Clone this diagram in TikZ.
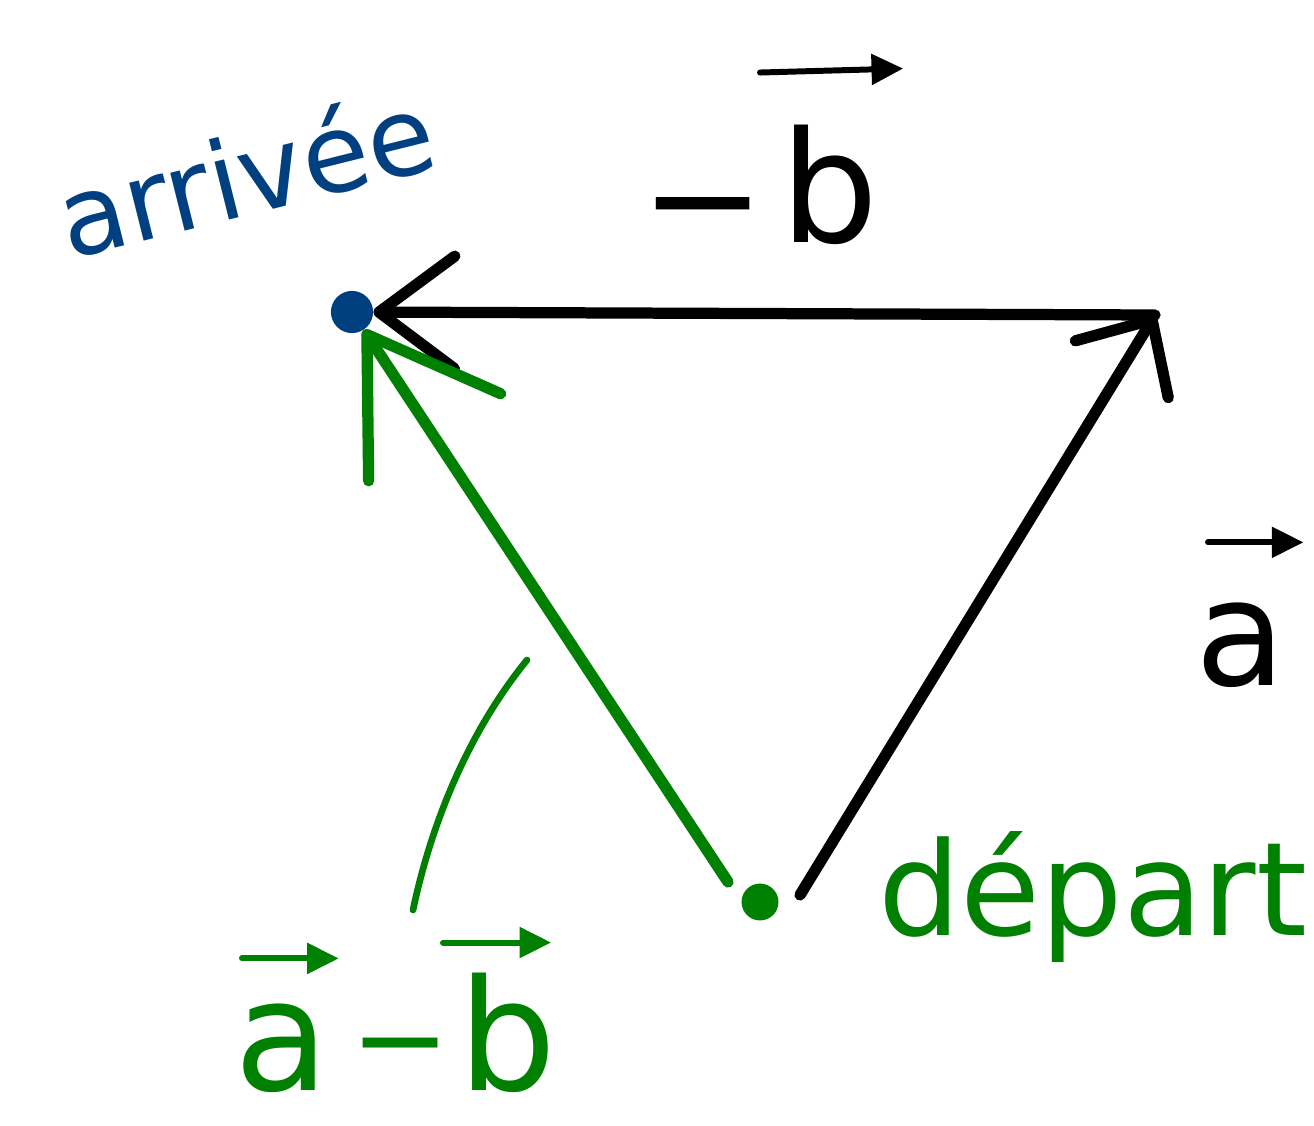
\documentclass[tikz,border=0pt]{standalone}
\usepackage{fontspec}
\setmainfont{DejaVu Sans}
\usetikzlibrary{arrows.meta,calc}
\definecolor{inkblue}{RGB}{0,64,128}
\definecolor{inkgreen}{RGB}{0,128,0}
\begin{document}
\begin{tikzpicture}[x=0.02cm,y=-0.02cm,
  ink/.style={line width=6.4pt, line cap=round, line join=round},
  thinink/.style={line width=3.8pt, line cap=round, line join=round},
  vecbar/.style={line width=3.4pt, line cap=round, -{Triangle[length=18pt,width=17pt]}},
  lbl/.style={inner sep=0pt, outer sep=0pt},
  pointdot/.style={circle, inner sep=0pt, minimum size=24pt}
]
\fill[white] (0,0) rectangle (1314,1125);
\useasboundingbox (0,0) rectangle (1314,1125);

% points
\node[pointdot, fill=inkblue] (A) at (352,312) {};
\node[pointdot, fill=inkgreen, minimum size=21pt] (D) at (760,902) {};
\coordinate (R) at (1155,315);
\coordinate (a0) at (800,895);
\coordinate (g0) at (728,882);

% vectors
\draw[ink, -{Straight Barb[length=43pt,width=64pt,round]}] (R) -- (A);
\draw[ink, -{Straight Barb[length=33pt,width=62pt,round]}] (a0) -- (R);
\draw[ink, inkgreen, -{Straight Barb[length=70pt,width=90pt,round]}] (g0) -- (A);

% label -b
\node[lbl, anchor=base west, font=\fontsize{85}{90}\selectfont] (mb) at (640,250) {−};
\node[lbl, anchor=base west, font=\fontsize{88}{90}\selectfont] (b1) at (780,242) {b};
\draw[vecbar] ($(b1.north west)+(-20,-52)$) -- ($(b1.north east)+(25,-56)$);

% label a
\node[lbl, anchor=base west, font=\fontsize{84}{90}\selectfont] (av) at (1195,685) {a};
\draw[vecbar] ($(av.north west)+(13,-60)$) -- ($(av.north east)+(18,-60)$);

% label arrivee
\node[lbl, inkblue, rotate=14, font=\fontsize{62}{70}\selectfont] (arr) at (245,172) {arrivée};

% label depart
\node[lbl, inkgreen, anchor=base west, font=\fontsize{74}{80}\selectfont] (dep) at (878,935) {départ};

% label a - b
\node[lbl, inkgreen, anchor=base west, font=\fontsize{88}{90}\selectfont] (ga) at (234,1090) {a};
\node[lbl, inkgreen, anchor=base west, font=\fontsize{68}{90}\selectfont] (gm) at (350,1080) {−};
\node[lbl, inkgreen, anchor=base west, font=\fontsize{88}{90}\selectfont] (gb) at (458,1090) {b};
\draw[vecbar, inkgreen] ($(ga.north west)+(8,-45)$) -- ($(ga.north east)+(10,-45)$);
\draw[vecbar, inkgreen] ($(gb.north west)+(-15,-30)$) -- ($(gb.north east)+(-5,-30)$);

% free-hand stroke
\draw[thinink, inkgreen] (413,910) .. controls (432,820) and (470,730) .. (527,660);
\end{tikzpicture}
\end{document}
